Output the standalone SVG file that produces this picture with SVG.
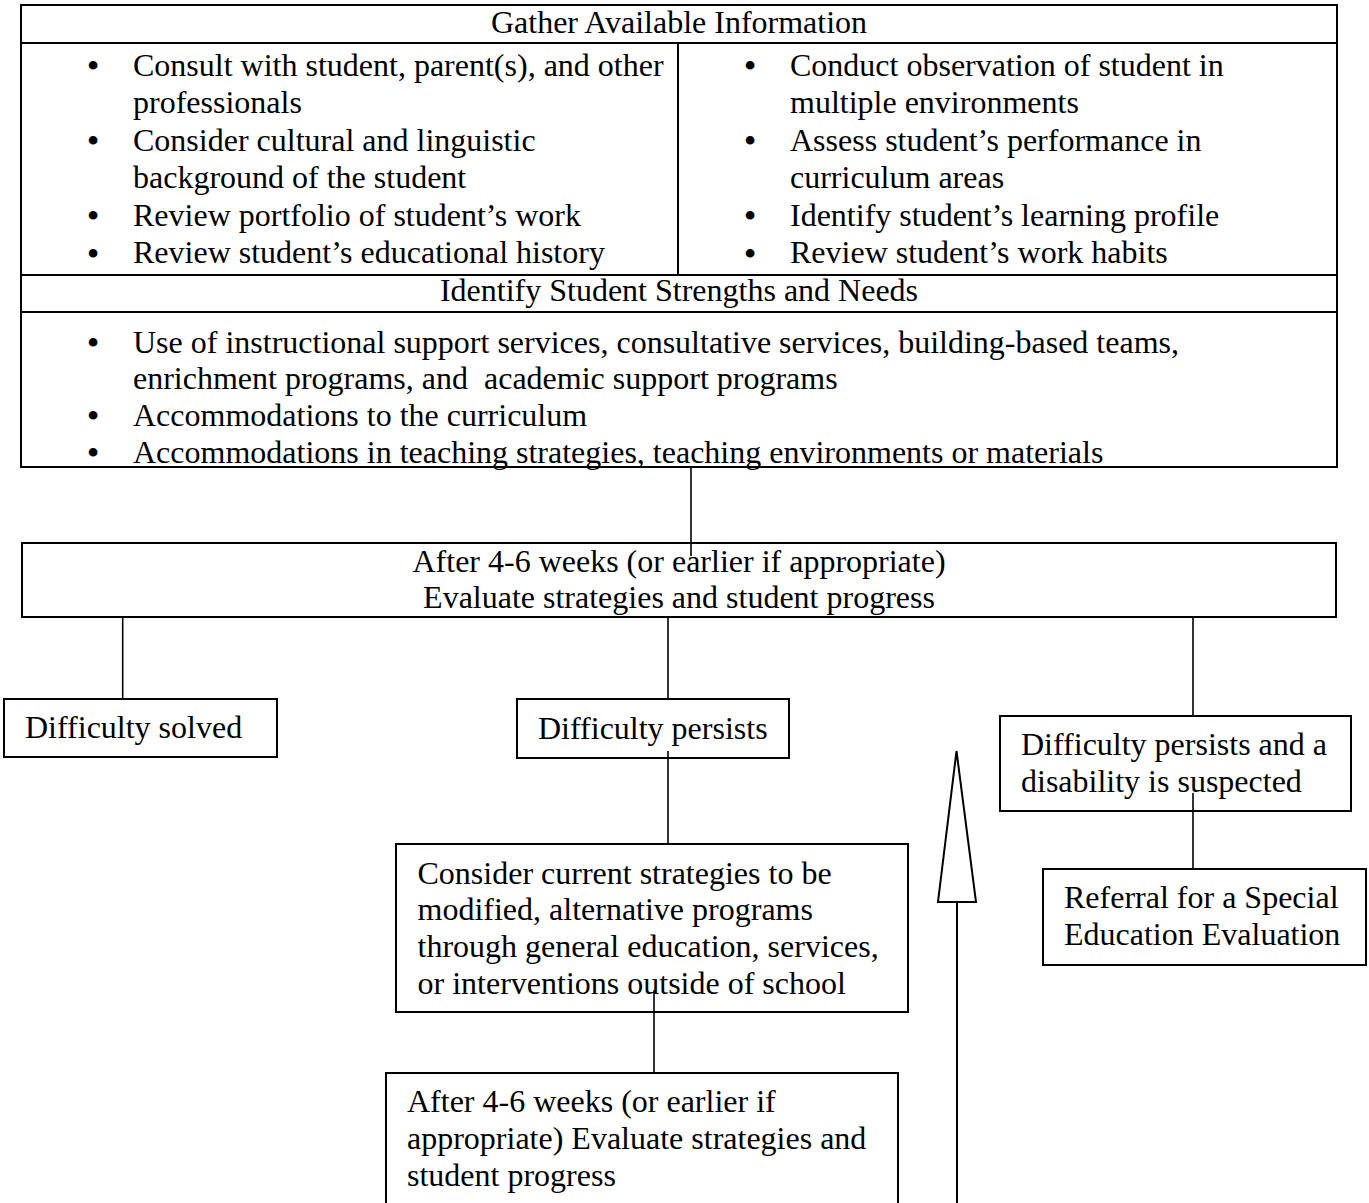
<svg xmlns="http://www.w3.org/2000/svg" width="1369" height="1203" viewBox="0 0 1369 1203">
<style>
text{font-family:"Liberation Serif","Times New Roman",serif;font-size:32px;fill:#000}
.c{text-anchor:middle}
.b{font-size:32px;text-anchor:middle;font-weight:bold}
.box{fill:#fff;stroke:#000;stroke-width:2}
.ln{stroke:#000;stroke-width:2;fill:none}
.cn{stroke:#000;stroke-width:1.6;fill:none}
</style>
<rect width="1369" height="1203" fill="#fff"/>
<g id="gather">
<rect class="box" x="21" y="5" width="1316" height="462"/>
<line class="ln" x1="21" y1="43" x2="1337" y2="43"/>
<line class="ln" x1="678" y1="43" x2="678" y2="275"/>
<line class="ln" x1="21" y1="275" x2="1337" y2="275"/>
<line class="ln" x1="21" y1="312" x2="1337" y2="312"/>
<text class="c" x="679" y="33">Gather Available Information</text>
<text class="b" x="93" y="76">•</text>
<text x="133" y="75.5">Consult with student, parent(s), and other</text>
<text x="133" y="113">professionals</text>
<text class="b" x="93" y="151">•</text>
<text x="133" y="150.5">Consider cultural and linguistic</text>
<text x="133" y="188">background of the student</text>
<text class="b" x="93" y="226">•</text>
<text x="133" y="225.5">Review portfolio of student’s work</text>
<text class="b" x="93" y="263.5">•</text>
<text x="133" y="263">Review student’s educational history</text>
<text class="b" x="750" y="76">•</text>
<text x="790" y="75.5">Conduct observation of student in</text>
<text x="790" y="113">multiple environments</text>
<text class="b" x="750" y="151">•</text>
<text x="790" y="150.5">Assess student’s performance in</text>
<text x="790" y="188">curriculum areas</text>
<text class="b" x="750" y="226">•</text>
<text x="790" y="225.5">Identify student’s learning profile</text>
<text class="b" x="750" y="263.5">•</text>
<text x="790" y="263">Review student’s work habits</text>
<text class="c" x="679" y="301">Identify Student Strengths and Needs</text>
<text class="b" x="93" y="353">•</text>
<text x="133" y="352.5">Use of instructional support services, consultative services, building-based teams,</text>
<text x="133" y="389.2" xml:space="preserve">enrichment programs, and  academic support programs</text>
<text class="b" x="93" y="426.4">•</text>
<text x="133" y="425.9">Accommodations to the curriculum</text>
<text class="b" x="93" y="463">•</text>
<text x="133" y="462.6">Accommodations in teaching strategies, teaching environments or materials</text>
</g>
<g id="evaluate">
<rect class="box" x="22" y="543" width="1314" height="74"/>
<text class="c" x="679" y="571.5">After 4-6 weeks (or earlier if appropriate)</text>
<text class="c" x="679" y="608">Evaluate strategies and student progress</text>
</g>
<g id="solved">
<rect class="box" x="4" y="699" width="273" height="58"/>
<text x="25" y="738">Difficulty solved</text>
</g>
<g id="persists">
<rect class="box" x="517" y="699" width="272" height="59"/>
<text x="538" y="739">Difficulty persists</text>
</g>
<g id="disability">
<rect class="box" x="1000" y="716" width="351" height="95"/>
<text x="1021" y="755">Difficulty persists and a</text>
<text x="1021" y="792">disability is suspected</text>
</g>
<g id="referral">
<rect class="box" x="1043" y="869" width="323" height="96"/>
<text x="1064" y="908">Referral for a Special</text>
<text x="1064" y="945">Education Evaluation</text>
</g>
<g id="consider">
<rect class="box" x="396" y="844" width="512" height="168"/>
<text x="417.5" y="883.5">Consider current strategies to be</text>
<text x="417.5" y="920.2">modified, alternative programs</text>
<text x="417.5" y="956.9">through general education, services,</text>
<text x="417.5" y="993.6">or interventions outside of school</text>
</g>
<g id="after">
<rect class="box" x="386" y="1073" width="512" height="150"/>
<text x="407" y="1112">After 4-6 weeks (or earlier if</text>
<text x="407" y="1149">appropriate) Evaluate strategies and</text>
<text x="407" y="1186">student progress</text>
</g>
<g id="connectors">
<line class="cn" x1="691" y1="467" x2="691" y2="556"/>
<line class="cn" x1="122.7" y1="617" x2="122.7" y2="699"/>
<line class="cn" x1="668" y1="617" x2="668" y2="699"/>
<line class="cn" x1="1193" y1="617" x2="1193" y2="716"/>
<line class="cn" x1="668" y1="751" x2="668" y2="844"/>
<line class="cn" x1="1193" y1="793" x2="1193" y2="869"/>
<line class="cn" x1="654" y1="990" x2="654" y2="1073"/>
<line class="ln" x1="957" y1="902" x2="957" y2="1203"/>
<polygon class="ln" points="956.5,751 976,902 938,902" style="fill:#fff"/>
</g>
</svg>
